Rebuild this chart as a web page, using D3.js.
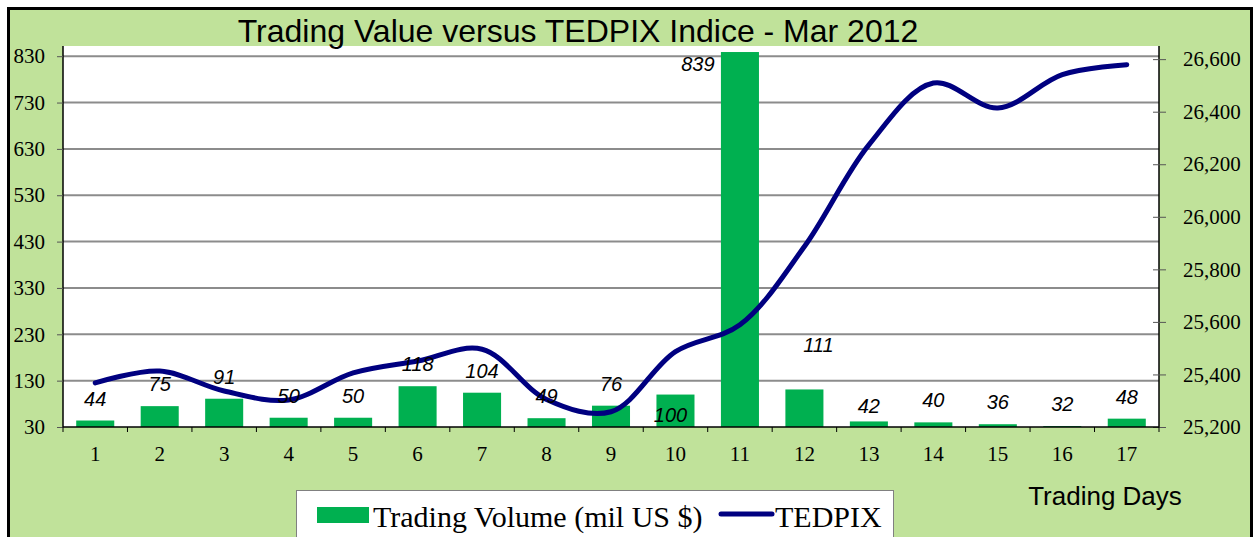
<!DOCTYPE html>
<html>
<head>
<meta charset="utf-8">
<script src="https://cdn.jsdelivr.net/npm/d3@7"></script>
<style>
  body { margin: 0; background: #fff; }
  svg { display: block; }
</style>
</head>
<body>
<script>
// data
const days = ["1","2","3","4","5","6","7","8","9","10","11","12","13","14","15","16","17"];
const volume = [44, 75, 91, 50, 50, 118, 104, 49, 76, 100, 839, 111, 42, 40, 36, 32, 48];
const tedpix = [25368, 25413, 25337, 25303, 25406, 25451, 25496, 25305, 25258, 25487,
                25589, 25887, 26274, 26509, 26414, 26541, 26579];
const leftTicks = [30, 130, 230, 330, 430, 530, 630, 730, 830];
const rightTicks = [25200, 25400, 25600, 25800, 26000, 26200, 26400, 26600];

const width = 1257, height = 537;
const plot = {left: 63, right: 1159, top: 46, bottom: 427};
const bg = "#c0e29a";

const svg = d3.select("body").append("svg")
    .attr("width", width)
    .attr("height", height);

// outer frame
svg.append("rect")
    .attr("x", 8.5).attr("y", 8.5)
    .attr("width", 1243).attr("height", 560)
    .attr("fill", bg)
    .attr("stroke", "#000")
    .attr("stroke-width", 3);

svg.append("rect")
    .attr("x", plot.left).attr("y", plot.top)
    .attr("width", plot.right - plot.left).attr("height", plot.bottom - plot.top)
    .attr("fill", "#fff");

const x = d3.scaleBand(days, [plot.left, plot.right]).paddingInner(0.41).paddingOuter(0.205);
const xPoint = d => x(d) + x.bandwidth() / 2;
const y = d3.scaleLinear([30, 852], [plot.bottom, plot.top]);
const y2 = d3.scaleLinear([25200, 26650], [plot.bottom, plot.top]);

// gridlines
svg.append("g")
  .selectAll("line")
  .data(leftTicks.slice(1))
  .join("line")
    .attr("x1", plot.left).attr("x2", plot.right)
    .attr("y1", d => y(d)).attr("y2", d => y(d))
    .attr("stroke", "#8c8c8c")
    .attr("stroke-width", 2);

// bars
svg.append("g")
  .selectAll("rect")
  .data(volume)
  .join("rect")
    .attr("x", (d, i) => x(days[i]))
    .attr("y", d => y(d))
    .attr("width", x.bandwidth())
    .attr("height", d => y(30) - y(d))
    .attr("fill", "#00b050");

// tedpix line
const line = d3.line()
    .x((d, i) => xPoint(days[i]))
    .y(d => y2(d))
    .curve(d3.curveCatmullRom.alpha(0.5));

svg.append("path")
    .datum(tedpix)
    .attr("fill", "none")
    .attr("stroke", "#000080")
    .attr("stroke-width", 5)
    .attr("stroke-linecap", "round")
    .attr("stroke-linejoin", "round")
    .attr("d", line);

// data labels, most sit above the bar, a few were moved in the original
const nudge = {"10": [-5, 42], "11": [-42, 34], "12": [14, -22], "13": [0, 7]};
svg.append("g")
    .attr("font-family", "Arial, 'Liberation Sans', sans-serif")
    .attr("font-style", "italic")
    .attr("font-size", 20)
    .attr("text-anchor", "middle")
  .selectAll("text")
  .data(volume)
  .join("text")
    .attr("x", (d, i) => xPoint(days[i]) + (nudge[days[i]] || [0, 0])[0])
    .attr("y", (d, i) => y(d) - 15 + (nudge[days[i]] || [0, 0])[1])
    .text(d => d);

// axes
const axisFont = "'Liberation Serif', 'Times New Roman', serif";

const gl = svg.append("g")
    .attr("transform", `translate(${plot.left},0)`)
    .call(d3.axisLeft(y).tickValues(leftTicks).tickSize(6).tickPadding(12));
gl.select(".domain").attr("d", `M0,${plot.top}V${plot.bottom}`);

const gr = svg.append("g")
    .attr("transform", `translate(${plot.right},0)`)
    .call(d3.axisRight(y2).tickValues(rightTicks).tickFormat(d3.format(",")).tickSize(7).tickPadding(17));
gr.select(".domain").attr("d", `M0,${plot.top}V${plot.bottom}`);
gr.selectAll(".tick line").attr("x1", -6);

const gx = svg.append("g")
    .attr("transform", `translate(0,${plot.bottom})`)
    .call(d3.axisBottom(x).tickSize(0).tickPadding(19));
gx.select(".domain").attr("d", `M${plot.left},0H${plot.right}`);
gx.append("g")
  .selectAll("line")
  .data(d3.range(days.length + 1))
  .join("line")
    .attr("x1", i => plot.left + i * x.step())
    .attr("x2", i => plot.left + i * x.step())
    .attr("y1", 0).attr("y2", 5)
    .attr("stroke", "#000");

for (const g of [gl, gr, gx]) {
  g.attr("font-family", axisFont).attr("font-size", 21);
  g.selectAll("text").attr("fill", "#000");
  g.select(".domain").attr("stroke", "#000").attr("stroke-width", 1.5);
  g.selectAll(".tick line").attr("stroke", "#000");
}
gl.selectAll(".tick line").attr("stroke", "#555");
gr.selectAll(".tick line").attr("stroke", "#555");

// title
svg.append("text")
    .attr("x", 578).attr("y", 42)
    .attr("text-anchor", "middle")
    .attr("font-family", "Arial, 'Liberation Sans', sans-serif")
    .attr("font-size", 32)
    .text("Trading Value versus TEDPIX Indice - Mar 2012");

svg.append("text")
    .attr("x", 1105).attr("y", 505)
    .attr("text-anchor", "middle")
    .attr("font-family", "Arial, 'Liberation Sans', sans-serif")
    .attr("font-size", 26)
    .text("Trading Days");

// legend
const legend = svg.append("g")
    .attr("font-family", axisFont)
    .attr("font-size", 30);

legend.append("rect")
    .attr("x", 296.5).attr("y", 490.5)
    .attr("width", 597).attr("height", 60)
    .attr("fill", "#fff")
    .attr("stroke", "#808080");

legend.append("rect")
    .attr("x", 317).attr("y", 507)
    .attr("width", 52).attr("height", 16)
    .attr("fill", "#00b050");

legend.append("text")
    .attr("x", 373).attr("y", 527)
    .text("Trading Volume (mil US $)");

legend.append("line")
    .attr("x1", 721).attr("x2", 772)
    .attr("y1", 514).attr("y2", 514)
    .attr("stroke", "#000080")
    .attr("stroke-width", 5)
    .attr("stroke-linecap", "round");

legend.append("text")
    .attr("x", 775).attr("y", 527)
    .text("TEDPIX");
</script>
</body>
</html>
